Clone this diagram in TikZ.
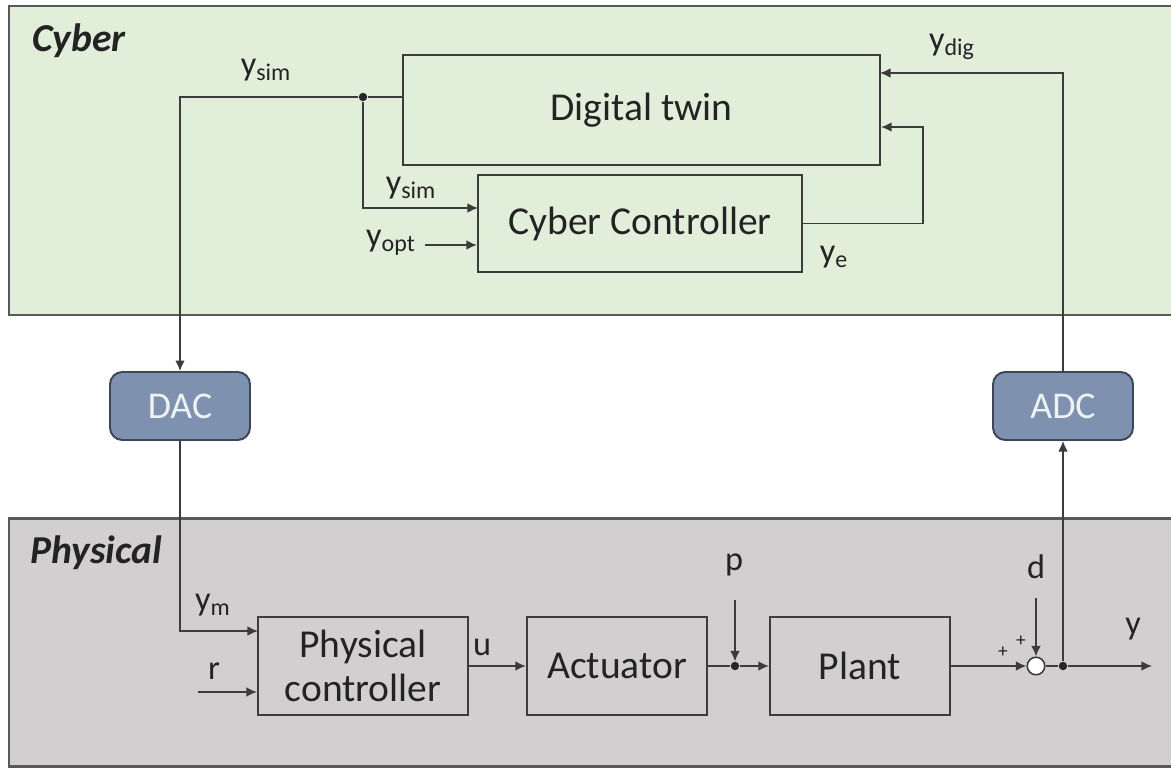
\documentclass[tikz,border=0pt]{standalone}
\usepackage{fontspec}
\setmainfont{Carlito}
\usetikzlibrary{arrows.meta,positioning}

\definecolor{cyberbg}{RGB}{225,238,217}
\definecolor{physbg}{RGB}{209,207,207}
\definecolor{convfill}{RGB}{126,145,174}
\definecolor{convdraw}{RGB}{60,70,88}
\definecolor{linecol}{RGB}{60,60,60}
\definecolor{txtcol}{RGB}{35,35,35}

\tikzset{
    panel/.style={draw=linecol!85, line width=1.7pt},
    block/.style={draw=linecol, line width=1.3pt, text=txtcol, align=center,
        font=\fontsize{22.5}{25}\selectfont, inner sep=0pt},
    conv/.style={draw=convdraw, fill=convfill, line width=1.1pt, rounded corners=7pt,
        text=white!88!convfill, font=\fontsize{21.5}{24}\selectfont,
        minimum width=2.8cm, minimum height=1.36cm},
    wire/.style={draw=linecol, line width=0.85pt},
    sig/.style={wire, -{Latex[length=6pt,width=5.5pt]}},
    lbl/.style={text=txtcol, font=\fontsize{19.5}{22}\selectfont, inner sep=1pt},
    layer/.style={text=txtcol, font=\fontsize{22.5}{24}\selectfont\bfseries\itshape, anchor=west},
    junc/.style={circle, fill=black!85, inner sep=0pt, minimum size=4.8pt},
    sumpt/.style={circle, draw=linecol, fill=white, line width=0.9pt, inner sep=0pt, minimum size=10pt},
}

\begin{document}
\begin{tikzpicture}[x=0.02cm, y=-0.02cm]
    \useasboundingbox (0,0) rectangle (1171,768);

    % the two layers
    \filldraw[panel, fill=cyberbg] (9,6) rectangle (1175,315);
    \filldraw[panel, fill=physbg] (9,518) rectangle (1175,766);
    \node[layer] (cyb) at (26,41) {Cyber};
    \node[layer] (phy) at (24,553) {Physical};

    % cyber blocks
    \node[block, minimum width=9.54cm, minimum height=2.2cm] (twin) at (641.5,110) {Digital twin};
    \node[block, minimum width=6.48cm, minimum height=1.94cm] (cc) at (640,223.5) {Cyber Controller};

    % converters
    \node[conv] (dac) at (180,406) {DAC};
    \node[conv] (adc) at (1063,406) {ADC};

    % physical blocks
    \node[block, minimum width=4.2cm, minimum height=1.96cm] (pc) at (363,666) {Physical\\controller};
    \node[block, minimum width=3.6cm, minimum height=1.96cm] (act) at (617,666) {Actuator};
    \node[block, minimum width=3.6cm, minimum height=1.96cm] (plant) at (860,666) {Plant};
    \node[sumpt] (sum) at (1036,666) {};
    \node[junc] (jp) at (735,666) {};
    \node[junc] (jy) at (1063,666) {};
    \node[junc] (jsim) at (363,97) {};

    % free ends and bends
    \coordinate (ccsim) at (478,208);
    \coordinate (optin) at (425,245);
    \coordinate (ebend) at (923,127);
    \coordinate (digin) at (880,73);
    \coordinate (ymin) at (258,631);
    \coordinate (rin) at (198,692);
    \coordinate (pin) at (735,600);
    \coordinate (din) at (1036,598);
    \coordinate (yout) at (1152,666);

    % cyber side
    \draw[wire] (twin.west |- jsim) -- (jsim);
    \draw[sig] (jsim) -| (dac.north);
    \draw[sig] (jsim) |- (ccsim);
    \draw[sig] (optin) -- (optin -| cc.west);
    \draw[sig] (cc.east) -| (ebend) -- (ebend -| twin.east);
    \draw[sig] (adc.north) |- (digin);

    % physical side
    \draw[sig] (dac.south) |- (ymin);
    \draw[sig] (rin) -- (rin -| pc.west);
    \draw[sig] (pc.east) -- (act.west);
    \draw[wire] (act.east) -- (jp);
    \draw[sig] (jp) -- (plant.west);
    \draw[sig] (pin) -- (jp);
    \draw[sig] (plant.east) -- (sum);
    \draw[sig] (din) -- (sum);
    \draw[wire] (sum) -- (jy);
    \draw[sig] (jy) -- (yout);
    \draw[sig] (jy) -- (adc.south);

    % signal names
    \node[lbl] (lsim) at (266,70) {y\textsubscript{sim}};
    \node[lbl] (lsimb) at (411,188) {y\textsubscript{sim}};
    \node[lbl] (lopt) at (391,243) {y\textsubscript{opt}};
    \node[lbl] (le) at (834,257) {y\textsubscript{e}};
    \node[lbl] (ldig) at (952,47) {y\textsubscript{dig}};
    \node[lbl] (lm) at (213,605) {y\textsubscript{m}};
    \node[lbl] (lr) at (214,671) {r};
    \node[lbl] (lu) at (482,647) {u};
    \node[lbl] (lp) at (734,565) {p};
    \node[lbl] (ld) at (1036,567) {d};
    \node[lbl] (ly) at (1133,629) {y};
    \node[lbl, font=\fontsize{11}{12}\selectfont] (pl1) at (1003,652) {+};
    \node[lbl, font=\fontsize{11}{12}\selectfont] (pl2) at (1021,641) {+};
\end{tikzpicture}
\end{document}
